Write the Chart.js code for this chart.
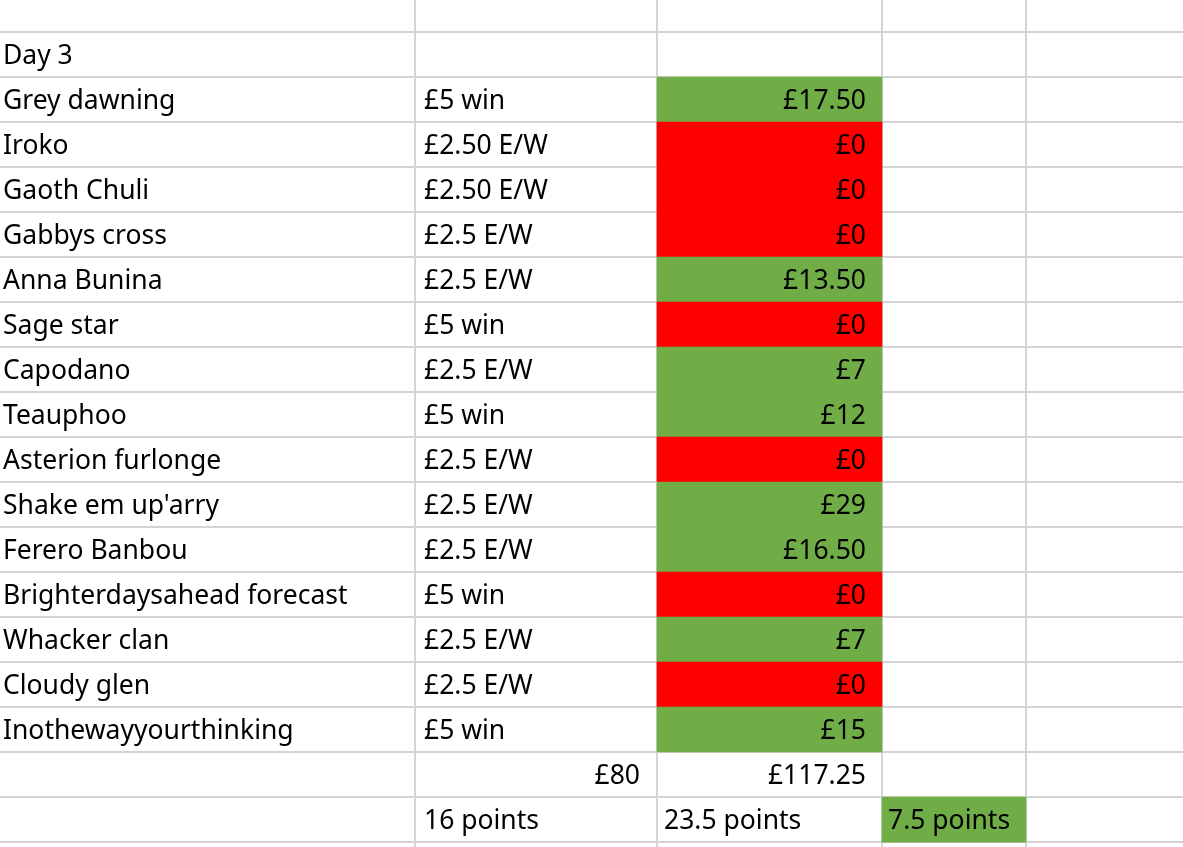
<!DOCTYPE html>
<html>
<head>
<meta charset="utf-8">
<script src="https://cdn.jsdelivr.net/npm/chart.js@4"></script>
<style>body{margin:0;background:#fff}canvas{display:block}</style>
</head>
<body>
<canvas id="c" width="1183" height="847"></canvas>
<script>
// row data (row 0 = "Day 3")
const names = ['Day 3', 'Grey dawning', 'Iroko', 'Gaoth Chuli', 'Gabbys cross', 'Anna Bunina', 'Sage star',
  'Capodano', 'Teauphoo', 'Asterion furlonge', "Shake em up'arry", 'Ferero Banbou',
  'Brighterdaysahead forecast', 'Whacker clan', 'Cloudy glen', 'Inothewayyourthinking', '', ''];
const stakes = ['', '£5 win', '£2.50 E/W', '£2.50 E/W', '£2.5 E/W', '£2.5 E/W', '£5 win', '£2.5 E/W', '£5 win',
  '£2.5 E/W', '£2.5 E/W', '£2.5 E/W', '£5 win', '£2.5 E/W', '£2.5 E/W', '£5 win', '', '16 points'];
const returns = ['', '£17.50', '£0', '£0', '£0', '£13.50', '£0', '£7', '£12', '£0', '£29', '£16.50',
  '£0', '£7', '£0', '£15', '£117.25', '23.5 points'];
const won = [null, true, false, false, false, true, false, true, true, false, true, true, false, true, false, true, null, null];
const totalStake = '£80';
const profit = '7.5 points';

const GREEN = '#70ad47', RED = '#ff0000';
const cols = [0, 415, 657, 882, 1026, 1183];
const FONT = '26.5px "Noto Sans"';

const rowIdx = names.map((_, i) => i);
const resultBars = rowIdx.filter(i => won[i] !== null).map(i => ({ x: [cols[2], cols[3]], y: i }));
const resultColors = rowIdx.filter(i => won[i] !== null).map(i => won[i] ? GREEN : RED);

const sheet = {
  id: 'sheet',
  beforeDatasetsDraw(chart) {
    const { ctx, scales: { x, y } } = chart;
    ctx.save();
    ctx.strokeStyle = '#d4d4d4';
    ctx.lineWidth = 2;
    for (let i = -1; i <= 18; i++) {
      const py = Math.round(y.getPixelForValue(i + 0.5));
      ctx.beginPath(); ctx.moveTo(0, py); ctx.lineTo(chart.width, py); ctx.stroke();
    }
    cols.slice(1, 5).forEach(c => {
      const px = x.getPixelForValue(c);
      ctx.beginPath(); ctx.moveTo(px, 0); ctx.lineTo(px, chart.height); ctx.stroke();
    });
    ctx.restore();
  },
  afterDatasetsDraw(chart) {
    const { ctx, scales: { x, y } } = chart;
    ctx.save();
    ctx.font = FONT;
    ctx.fillStyle = '#000';
    ctx.textBaseline = 'middle';
    rowIdx.forEach(i => {
      const py = y.getPixelForValue(i) + 2;
      ctx.textAlign = 'left';
      ctx.fillText(names[i], x.getPixelForValue(cols[0] + 3), py);
      ctx.fillText(stakes[i], x.getPixelForValue(cols[1] + 9), py);
      if (i === 17) {
        ctx.fillText(returns[i], x.getPixelForValue(cols[2] + 7), py);
        ctx.fillText(profit, x.getPixelForValue(cols[3] + 6), py);
      } else {
        ctx.textAlign = 'right';
        ctx.fillText(returns[i], x.getPixelForValue(cols[3] - 16), py);
      }
      if (i === 16) {
        ctx.textAlign = 'right';
        ctx.fillText(totalStake, x.getPixelForValue(cols[2] - 17), py);
      }
    });
    ctx.restore();
  }
};

new Chart(document.getElementById('c'), {
  type: 'bar',
  data: {
    datasets: [
      { data: resultBars, backgroundColor: resultColors, categoryPercentage: 1, barPercentage: 1, grouped: false },
      { data: [{ x: [cols[3], cols[4]], y: 17 }], backgroundColor: GREEN, categoryPercentage: 1, barPercentage: 1, grouped: false }
    ]
  },
  options: {
    indexAxis: 'y',
    responsive: false,
    animation: false,
    layout: { padding: 0 },
    plugins: { legend: { display: false }, tooltip: { enabled: false } },
    scales: {
      x: { type: 'linear', min: 0, max: 1183, offset: false, display: false },
      y: { type: 'linear', min: -1.211, max: 17.61, reverse: true, offset: false, display: false }
    }
  },
  plugins: [sheet]
});
</script>
</body>
</html>
